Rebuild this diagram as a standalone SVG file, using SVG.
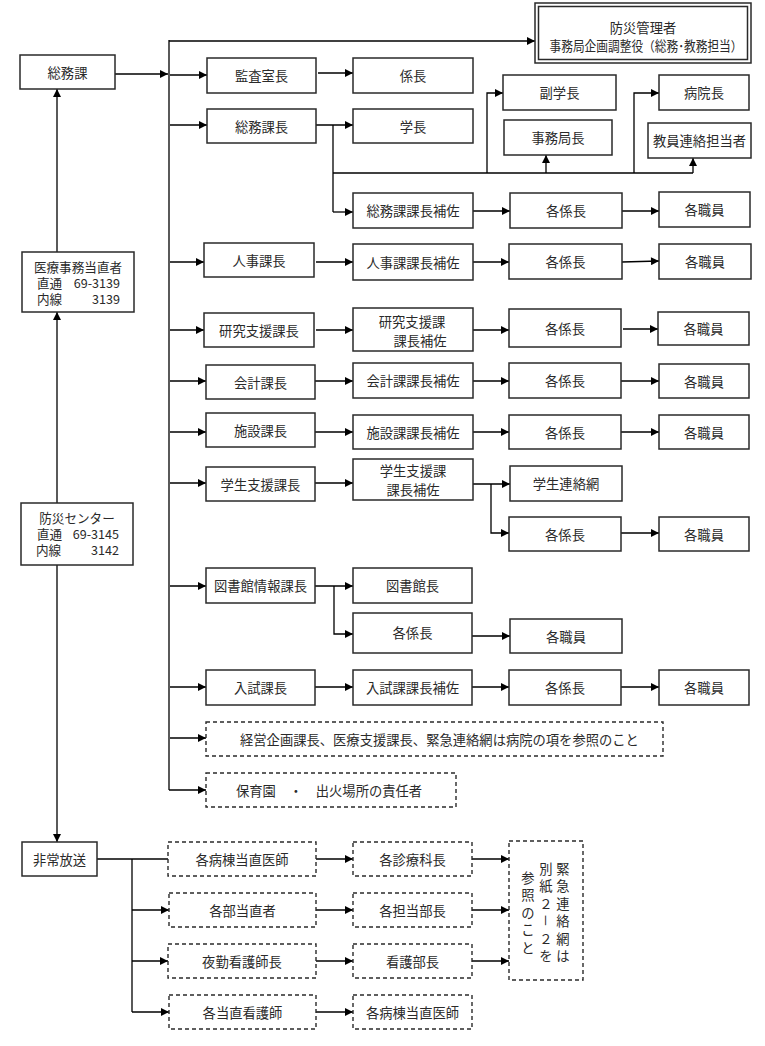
<svg xmlns="http://www.w3.org/2000/svg" width="765" height="1046" viewBox="0 0 765 1046">
<style>
.b{fill:#fff;stroke:#2a2a2a;stroke-width:1.5}
.d{fill:#fff;stroke:#2a2a2a;stroke-width:1.4;stroke-dasharray:4 3}
text{font-family:"Noto Sans CJK JP","Noto Sans CJK SC",sans-serif;font-size:13.3px;fill:#2a2a2a;dominant-baseline:central}
.c{text-anchor:middle}
.e{text-anchor:end}
.s{font-size:12.6px}
#conn line,#conn polyline{stroke:#000;stroke-width:1.3;fill:none}
.a{marker-end:url(#ah)}
</style>
<defs>
<marker id="ah" viewBox="0 0 10 10" refX="10" refY="5" markerWidth="9" markerHeight="8" markerUnits="userSpaceOnUse" orient="auto"><path d="M0,0 L10,5 L0,10 z" fill="#000"/></marker>
</defs>
<rect width="765" height="1046" fill="#fff"/>
<g id="conn">
<line class="a" x1="115" y1="74" x2="168" y2="74"/>
<line x1="169" y1="40" x2="169" y2="790"/>
<line class="a" x1="169" y1="41" x2="535" y2="41"/>
<line class="a" x1="170" y1="75" x2="207" y2="75"/>
<line class="a" x1="318" y1="73" x2="353" y2="73"/>
<line class="a" x1="170" y1="125" x2="207" y2="125"/>
<line class="a" x1="316" y1="125" x2="353" y2="125"/>
<line x1="333" y1="125" x2="333" y2="212"/>
<line class="a" x1="333" y1="212" x2="353" y2="212"/>
<line x1="333" y1="173" x2="693" y2="173"/>
<polyline class="a" points="487,173 487,93 503,93"/>
<line class="a" x1="546" y1="173" x2="546" y2="155"/>
<polyline class="a" points="634,173 634,93 659,93"/>
<line class="a" x1="693" y1="173" x2="693" y2="158"/>
<line class="a" x1="473" y1="211" x2="510" y2="211"/>
<line class="a" x1="622" y1="211" x2="659" y2="211"/>
<line class="a" x1="170" y1="262" x2="204" y2="262"/>
<line class="a" x1="316" y1="262" x2="353" y2="262"/>
<line class="a" x1="473" y1="262" x2="509" y2="262"/>
<line class="a" x1="622" y1="262" x2="659" y2="261"/>
<line class="a" x1="170" y1="330" x2="204" y2="330"/>
<line class="a" x1="316" y1="330" x2="353" y2="330"/>
<line class="a" x1="473" y1="330" x2="509" y2="330"/>
<line class="a" x1="623" y1="329" x2="658" y2="329"/>
<line class="a" x1="170" y1="381" x2="206" y2="381"/>
<line class="a" x1="315" y1="381" x2="353" y2="381"/>
<line class="a" x1="473" y1="381" x2="509" y2="381"/>
<line class="a" x1="621" y1="381" x2="659" y2="381"/>
<line class="a" x1="170" y1="432" x2="206" y2="432"/>
<line class="a" x1="315" y1="432" x2="353" y2="432"/>
<line class="a" x1="473" y1="432" x2="509" y2="432"/>
<line class="a" x1="621" y1="432" x2="659" y2="432"/>
<line class="a" x1="170" y1="483" x2="206" y2="483"/>
<line class="a" x1="315" y1="483" x2="353" y2="483"/>
<line class="a" x1="472" y1="484" x2="510" y2="484"/>
<polyline class="a" points="491,484 491,533 509,533"/>
<line class="a" x1="621" y1="533" x2="659" y2="533"/>
<line class="a" x1="170" y1="586" x2="206" y2="586"/>
<line class="a" x1="315" y1="586" x2="353" y2="586"/>
<polyline class="a" points="334,586 334,634 353,634"/>
<line class="a" x1="472" y1="636" x2="510" y2="636"/>
<line class="a" x1="170" y1="687" x2="206" y2="687"/>
<line class="a" x1="315" y1="687" x2="353" y2="687"/>
<line class="a" x1="472" y1="687" x2="509" y2="687"/>
<line class="a" x1="621" y1="687" x2="659" y2="687"/>
<line class="a" x1="170" y1="738" x2="206" y2="738"/>
<line class="a" x1="169" y1="790" x2="206" y2="790"/>
<line class="a" x1="57" y1="252" x2="57" y2="89"/>
<line class="a" x1="57" y1="503" x2="57" y2="312"/>
<line class="a" x1="57" y1="565" x2="57" y2="842"/>
<line x1="97" y1="859" x2="168" y2="859"/>
<line x1="132" y1="859" x2="132" y2="1012"/>
<line class="a" x1="132" y1="910" x2="169" y2="910"/>
<line class="a" x1="132" y1="961" x2="168" y2="961"/>
<line class="a" x1="132" y1="1012" x2="169" y2="1012"/>
<line class="a" x1="316" y1="859" x2="353" y2="859"/>
<line class="a" x1="316" y1="910" x2="353" y2="910"/>
<line class="a" x1="316" y1="961" x2="353" y2="961"/>
<line class="a" x1="316" y1="1012" x2="353" y2="1012"/>
<line class="a" x1="472" y1="859" x2="509" y2="859"/>
<line class="a" x1="472" y1="910" x2="509" y2="910"/>
<line class="a" x1="472" y1="961" x2="509" y2="961"/>
</g>
<g id="n-soumuka"><rect class="b" x="20" y="55" width="95" height="34"/><text class="c" x="67.5" y="72" font-size="14">総務課</text></g>
<g id="n-iryou"><rect class="b" x="22" y="252" width="112" height="60"/><text class="c s" x="78" y="266">医療事務当直者</text><text class="s" x="37" y="282">直通</text><text class="e s" x="120" y="282">69-3139</text><text class="s" x="37" y="298">内線</text><text class="e s" x="120" y="298">3139</text></g>
<g id="n-bousai-c"><rect class="b" x="21" y="503" width="112" height="62"/><text class="c s" x="77" y="517">防災センター</text><text class="s" x="37" y="533">直通</text><text class="e s" x="119" y="533">69-3145</text><text class="s" x="36" y="549">内線</text><text class="e s" x="119" y="549">3142</text></g>
<g id="n-hijou"><rect class="b" x="22" y="842" width="75" height="34"/><text class="c" x="59.5" y="859">非常放送</text></g>
<g id="n-kanri"><rect fill="#fff" stroke="#2a2a2a" stroke-width="1.5" x="535" y="3" width="216" height="60"/><rect fill="none" stroke="#2a2a2a" stroke-width="1.5" x="538.5" y="6.5" width="209" height="53"/><text class="c" x="643" y="27">防災管理者</text><text class="c" x="646" y="45" font-size="11.2" textLength="193" lengthAdjust="spacingAndGlyphs">事務局企画調整役（総務･教務担当）</text></g>
<g id="n-kansa"><rect class="b" x="207" y="58" width="109" height="35"/><text class="c" x="261.5" y="75.5" font-size="15">監査室長</text></g>
<g id="n-kakari"><rect class="b" x="353" y="58" width="120" height="35"/><text class="c" x="413" y="75.5" font-size="14">係長</text></g>
<g id="n-soumukacho"><rect class="b" x="207" y="109" width="109" height="34"/><text class="c" x="261.5" y="126">総務課長</text></g>
<g id="n-gakucho"><rect class="b" x="353" y="109" width="120" height="34"/><text class="c" x="413" y="126">学長</text></g>
<g id="n-fuku"><rect class="b" x="503" y="75" width="113" height="35"/><text class="c" x="559.5" y="92.5">副学長</text></g>
<g id="n-jimu"><rect class="b" x="504" y="120" width="108" height="35"/><text class="c" x="558" y="137.5">事務局長</text></g>
<g id="n-byouin"><rect class="b" x="659" y="75" width="90" height="35"/><text class="c" x="704" y="92.5">病院長</text></g>
<g id="n-kyoin"><rect class="b" x="648" y="123" width="103" height="35"/><text class="c" x="699.5" y="140.5" font-size="13.9">教員連絡担当者</text></g>
<g id="n-soumu-hosa"><rect class="b" x="353" y="193" width="120" height="35"/><text class="c" x="413" y="210.5">総務課課長補佐</text></g>
<g id="n-soumu-kk"><rect class="b" x="510" y="193" width="112" height="35"/><text class="c" x="566" y="210.5">各係長</text></g>
<g id="n-soumu-ks"><rect class="b" x="659" y="192" width="91" height="35"/><text class="c" x="704.5" y="209.5">各職員</text></g>
<g id="n-jinji"><rect class="b" x="204" y="243" width="110" height="34"/><text class="c" x="259" y="260">人事課長</text></g>
<g id="n-jinji-hosa"><rect class="b" x="353" y="244" width="120" height="36"/><text class="c" x="413" y="262">人事課課長補佐</text></g>
<g id="n-jinji-kk"><rect class="b" x="509" y="244" width="113" height="35"/><text class="c" x="565.5" y="261.5">各係長</text></g>
<g id="n-jinji-ks"><rect class="b" x="659" y="244" width="92" height="35"/><text class="c" x="705" y="261.5">各職員</text></g>
<g id="n-kenkyu"><rect class="b" x="204" y="313" width="110" height="34"/><text class="c" x="259" y="330">研究支援課長</text></g>
<g id="n-kenkyu-hosa"><rect class="b" x="353" y="308" width="120" height="43"/><text class="c" x="412" y="321">研究支援課</text><text class="c" x="420" y="340">課長補佐</text></g>
<g id="n-kenkyu-kk"><rect class="b" x="509" y="309" width="112" height="38"/><text class="c" x="565" y="328" font-size="14.5">各係長</text></g>
<g id="n-kenkyu-ks"><rect class="b" x="658" y="312" width="91" height="33"/><text class="c" x="703.5" y="328.5" font-size="14.5">各職員</text></g>
<g id="n-kaikei"><rect class="b" x="206" y="365" width="109" height="34"/><text class="c" x="260.5" y="382">会計課長</text></g>
<g id="n-kaikei-hosa"><rect class="b" x="353" y="363" width="120" height="35"/><text class="c" x="413" y="380.5">会計課課長補佐</text></g>
<g id="n-kaikei-kk"><rect class="b" x="509" y="363" width="112" height="35"/><text class="c" x="565" y="380.5">各係長</text></g>
<g id="n-kaikei-ks"><rect class="b" x="659" y="364" width="90" height="34"/><text class="c" x="704" y="381">各職員</text></g>
<g id="n-shisetsu"><rect class="b" x="206" y="413" width="109" height="34"/><text class="c" x="260.5" y="430">施設課長</text></g>
<g id="n-shisetsu-hosa"><rect class="b" x="353" y="415" width="120" height="34"/><text class="c" x="413" y="432">施設課課長補佐</text></g>
<g id="n-shisetsu-kk"><rect class="b" x="509" y="415" width="112" height="34"/><text class="c" x="565" y="432">各係長</text></g>
<g id="n-shisetsu-ks"><rect class="b" x="659" y="415" width="90" height="34"/><text class="c" x="704" y="432">各職員</text></g>
<g id="n-gakusei"><rect class="b" x="206" y="467" width="109" height="34"/><text class="c" x="260.5" y="484">学生支援課長</text></g>
<g id="n-gakusei-hosa"><rect class="b" x="353" y="459" width="120" height="41"/><text class="c" x="413" y="470">学生支援課</text><text class="c" x="413" y="489">課長補佐</text></g>
<g id="n-gakusei-rm"><rect class="b" x="510" y="466" width="112" height="35"/><text class="c" x="566" y="483.5">学生連絡網</text></g>
<g id="n-gakusei-kk"><rect class="b" x="509" y="517" width="112" height="34"/><text class="c" x="565" y="534">各係長</text></g>
<g id="n-gakusei-ks"><rect class="b" x="659" y="517" width="90" height="34"/><text class="c" x="704" y="534">各職員</text></g>
<g id="n-tosho"><rect class="b" x="206" y="568" width="109" height="35"/><text class="c" x="260.5" y="585.5">図書館情報課長</text></g>
<g id="n-toshokan"><rect class="b" x="353" y="568" width="119" height="35"/><text class="c" x="412.5" y="585.5">図書館長</text></g>
<g id="n-tosho-kk"><rect class="b" x="353" y="613" width="119" height="40"/><text class="c" x="412.5" y="632">各係長</text></g>
<g id="n-tosho-ks"><rect class="b" x="510" y="619" width="112" height="34"/><text class="c" x="566" y="636">各職員</text></g>
<g id="n-nyushi"><rect class="b" x="206" y="670" width="109" height="35"/><text class="c" x="260.5" y="687.5">入試課長</text></g>
<g id="n-nyushi-hosa"><rect class="b" x="353" y="670" width="119" height="35"/><text class="c" x="412.5" y="687.5">入試課課長補佐</text></g>
<g id="n-nyushi-kk"><rect class="b" x="509" y="670" width="112" height="35"/><text class="c" x="565" y="687.5">各係長</text></g>
<g id="n-nyushi-ks"><rect class="b" x="659" y="670" width="90" height="35"/><text class="c" x="704" y="687.5">各職員</text></g>
<g id="n-keiei"><rect class="d" x="206" y="722" width="457" height="34"/><text x="240" y="739">経営企画課長、医療支援課長、緊急連絡網は病院の項を参照のこと</text></g>
<g id="n-hoiku"><rect class="d" x="206" y="773" width="250" height="34"/><text x="236" y="790">保育園　・　出火場所の責任者</text></g>
<g id="n-byoto"><rect class="d" x="168" y="842" width="148" height="34"/><text class="c" x="242" y="859">各病棟当直医師</text></g>
<g id="n-bubu"><rect class="d" x="169" y="893" width="147" height="34"/><text class="c" x="242.5" y="910">各部当直者</text></g>
<g id="n-yakin"><rect class="d" x="168" y="944" width="148" height="34"/><text class="c" x="242" y="961">夜勤看護師長</text></g>
<g id="n-kangoshi"><rect class="d" x="169" y="995" width="147" height="34"/><text class="c" x="242.5" y="1012">各当直看護師</text></g>
<g id="n-shinryo"><rect class="d" x="353" y="842" width="119" height="34"/><text class="c" x="412.5" y="859">各診療科長</text></g>
<g id="n-tanto"><rect class="d" x="353" y="893" width="119" height="34"/><text class="c" x="412.5" y="910">各担当部長</text></g>
<g id="n-kango"><rect class="d" x="353" y="944" width="119" height="34"/><text class="c" x="412.5" y="961">看護部長</text></g>
<g id="n-byoto2"><rect class="d" x="353" y="995" width="119" height="34"/><text class="c" x="412.5" y="1012">各病棟当直医師</text></g>
<g id="n-kinkyu"><rect class="d" x="509" y="841" width="74" height="139"/>
<text class="c" font-size="14" x="563 563 563 563 563 563" y="868 885.5 903 920.5 938 955.5">緊急連絡網は</text>
<text class="c" font-size="14" x="546 546 546 546 546" y="868 885.5 903 938 955.5">別紙２２を</text>
<text class="c" font-size="14" x="546" y="920.5" transform="rotate(90 546 920.5)">－</text>
<text class="c" font-size="14" x="528 528 528 528 528" y="877 894.5 912 929.5 947">参照のこと</text>
</g>
</svg>
